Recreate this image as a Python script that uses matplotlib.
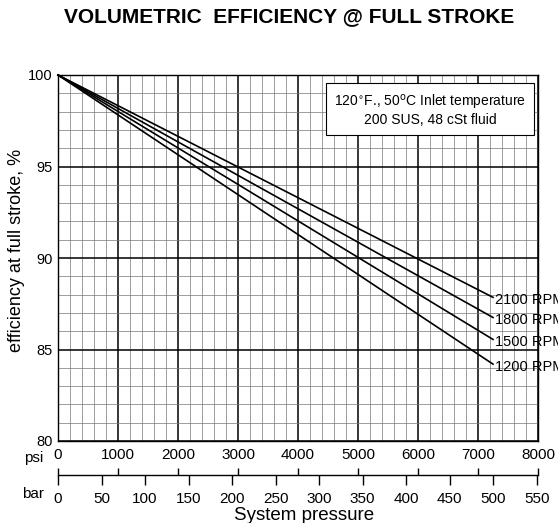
import matplotlib
matplotlib.use("Agg")
import matplotlib.pyplot as plt
import numpy as np

plt.rcParams['font.family'] = ['Liberation Sans', 'DejaVu Sans']

# Data
psi = [0, 7250]
rpm_labels = ["2100 RPM", "1800 RPM", "1500 RPM", "1200 RPM"]
eff_2100 = [100, 87.85]
eff_1800 = [100, 86.75]
eff_1500 = [100, 85.55]
eff_1200 = [100, 84.2]
series = [eff_2100, eff_1800, eff_1500, eff_1200]
psi_ticks = [0, 1000, 2000, 3000, 4000, 5000, 6000, 7000, 8000]
bar_ticks = [0, 50, 100, 150, 200, 250, 300, 350, 400, 450, 500, 550]
eff_ticks = [80, 85, 90, 95, 100]
PSI_PER_BAR = 14.5038

W, H = 558, 523
fig = plt.figure(figsize=(W / 100, H / 100), dpi=100)

L, R, T, B = 58, 538, 75, 441
ax = fig.add_axes([L / W, 1 - B / H, (R - L) / W, (B - T) / H])
ax.set_xlim(0, 8000)
ax.set_ylim(80, 100)

# grid
for x in np.arange(0, 8001, 200):
    major = (x % 1000 == 0)
    ax.axvline(x, color='black' if major else '#777777',
               lw=1.1 if major else 0.5, zorder=1)
for y in np.arange(80, 100.1, 1):
    major = (y % 5 == 0)
    ax.axhline(y, color='black' if major else '#777777',
               lw=1.1 if major else 0.5, zorder=1)

for s, lab in zip(series, rpm_labels):
    ax.plot(psi, s, color='black', lw=1.2, zorder=3, clip_on=False)
    ax.text(psi[-1] + 40, s[-1] - 0.15, lab, fontsize=10.5, ha='left',
            va='center', zorder=4, clip_on=False)

for sp in ax.spines.values():
    sp.set_linewidth(1.0)

ax.set_xticks(psi_ticks)
ax.set_xticklabels([str(v) for v in psi_ticks], fontsize=11)
ax.set_yticks(eff_ticks)
ax.set_yticklabels([str(v) for v in eff_ticks], fontsize=10.5)
ax.tick_params(axis='x', length=0, pad=5)
ax.tick_params(axis='y', length=0, pad=4)
ax.set_ylabel("efficiency at full stroke, %", fontsize=13)
ax.yaxis.set_label_coords((25 - L) / (R - L), (B - 250) / (B - T))

ax.text((430 - L) / (R - L), (B - 110) / (B - T),
        "120$^{\\circ}$F., 50$^{\\mathrm{o}}$C Inlet temperature\n200 SUS, 48 cSt fluid",
        transform=ax.transAxes, ha='center', va='center', fontsize=10,
        linespacing=1.1, zorder=5,
        bbox=dict(boxstyle='square,pad=0.55', fc='white', ec='black', lw=0.8))

# bar scale
ybar = 1 - 475 / H
ax2 = fig.add_axes([L / W, ybar, (R - L) / W, 1e-6])
ax2.set_xlim(0, 8000 / PSI_PER_BAR)
ax2.set_yticks([])
for k in ['left', 'right', 'top']:
    ax2.spines[k].set_visible(False)
ax2.spines['bottom'].set_linewidth(1.0)
ax2.set_xticks(bar_ticks)
ax2.set_xticklabels([str(v) for v in bar_ticks], fontsize=11)
ax2.tick_params(axis='x', direction='out', length=7, width=1.0, pad=5)

ax3 = fig.add_axes([L / W, ybar, (R - L) / W, 1e-6])
ax3.set_xlim(0, 8000)
ax3.patch.set_visible(False)
ax3.set_yticks([])
for k in ['left', 'right', 'top', 'bottom']:
    ax3.spines[k].set_visible(False)
ax3.xaxis.set_ticks_position('top')
ax3.set_xticks(psi_ticks)
ax3.set_xticklabels([])
ax3.tick_params(axis='x', direction='out', length=5, width=1.0)

fig.text(34 / W, 1 - 458 / H, "psi", fontsize=11, ha='center', va='center')
fig.text(33 / W, 1 - 494 / H, "bar", fontsize=11, ha='center', va='center')
fig.text(304 / W, 1 - 515 / H, "System pressure", fontsize=13.5,
         ha='center', va='center')
fig.text(289 / W, 1 - 17 / H, "VOLUMETRIC  EFFICIENCY @ FULL STROKE",
         fontsize=15, fontweight='bold', ha='center', va='center')

fig.savefig("out.png", dpi=100)
